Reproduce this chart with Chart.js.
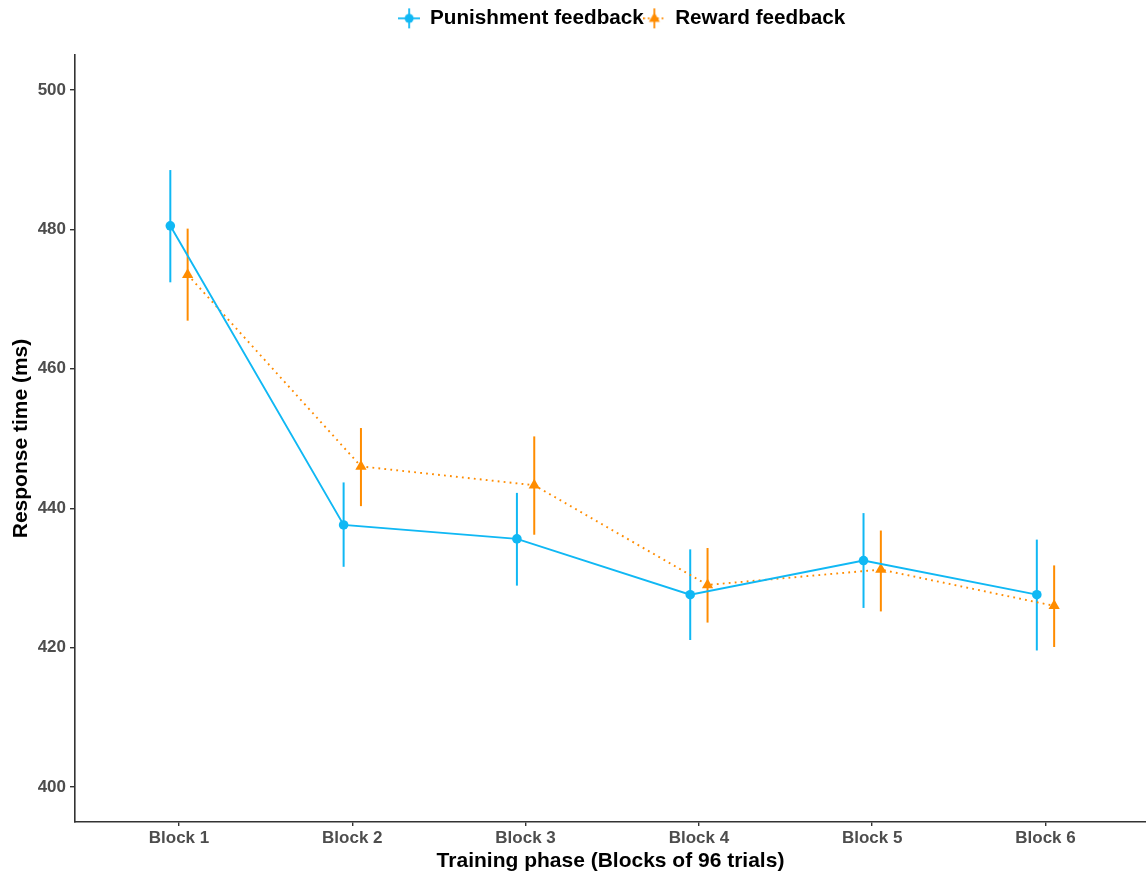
<!DOCTYPE html>
<html>
<head>
<meta charset="utf-8">
<script src="https://cdn.jsdelivr.net/npm/chart.js@4.4.1/dist/chart.umd.min.js"></script>
<style>
  html, body { margin: 0; padding: 0; background: #fff; overflow: hidden; }
  #wrap { width: 1146px; height: 874px; position: relative; }
  #rtChart { display: block; }
</style>
</head>
<body>
<div id="wrap"><canvas id="rtChart"></canvas></div>
<script>
const blockLabels = ["Block 1", "Block 2", "Block 3", "Block 4", "Block 5", "Block 6"];
const yTicks = [400, 420, 440, 460, 480, 500];

const punishMean = [480.5, 437.6, 435.6, 427.6, 432.5, 427.6];
const punishLow = [472.4, 431.6, 428.9, 421.1, 425.7, 419.6];
const punishHigh = [488.5, 443.7, 442.2, 434.1, 439.3, 435.5];

const rewardMean = [473.5, 446.0, 443.3, 429.0, 431.2, 426.0];
const rewardLow = [466.9, 440.3, 436.2, 423.6, 425.2, 420.1];
const rewardHigh = [480.1, 451.5, 450.3, 434.3, 436.8, 431.8];

const BLUE = "#10b8f4";
const ORANGE = "#ff8c00";
const FONT = "'Liberation Sans', Arial, Helvetica, sans-serif";
const DODGE = 0.05;

// points sit left/right of the category centre, like position_dodge
const toPoints = (means, shift) => means.map((v, i) => ({ x: i + 1 + shift, y: v }));

function legendIcon(color, dashed, triangle) {
  const c = document.createElement("canvas");
  c.width = 22;
  c.height = 22;
  const g = c.getContext("2d");
  g.strokeStyle = color;
  g.fillStyle = color;
  g.lineWidth = 1.8;
  g.setLineDash(dashed ? [1.6, 3] : []);
  g.beginPath();
  g.moveTo(0, 11);
  g.lineTo(22, 11);
  g.stroke();
  g.setLineDash([]);
  g.beginPath();
  g.moveTo(11, 1);
  g.lineTo(11, 21);
  g.stroke();
  g.beginPath();
  if (triangle) {
    g.moveTo(11, 5);
    g.lineTo(16.5, 14.5);
    g.lineTo(5.5, 14.5);
    g.closePath();
  } else {
    g.arc(11, 11, 4.5, 0, Math.PI * 2);
  }
  g.fill();
  return c;
}

const errorBars = {
  id: "errorBars",
  beforeDatasetsDraw(chart) {
    const { ctx, scales } = chart;
    chart.data.datasets.forEach((ds) => {
      ctx.save();
      ctx.strokeStyle = ds.borderColor;
      ctx.lineWidth = 2;
      ds.data.forEach((p, i) => {
        const x = scales.x.getPixelForValue(p.x);
        ctx.beginPath();
        ctx.moveTo(x, scales.y.getPixelForValue(ds.low[i]));
        ctx.lineTo(x, scales.y.getPixelForValue(ds.high[i]));
        ctx.stroke();
      });
      ctx.restore();
    });
  },
};

// legend: fixed height, and centred a bit right like the ggplot original
const legendBox = {
  id: "legendBox",
  beforeInit(chart) {
    const fit = chart.legend.fit;
    chart.legend.fit = function () {
      fit.bind(chart.legend)();
      this.height = 47;
    };
  },
  afterLayout(chart) {
    chart.legend.left += 49;
    chart.legend.right += 49;
  },
};

new Chart(document.getElementById("rtChart"), {
  type: "line",
  data: {
    datasets: [
      {
        label: "Punishment feedback",
        data: toPoints(punishMean, -DODGE),
        low: punishLow,
        high: punishHigh,
        borderColor: BLUE,
        backgroundColor: BLUE,
        borderWidth: 1.9,
        pointStyle: "circle",
        pointRadius: 4.8,
        pointBorderWidth: 0,
        legendIcon: legendIcon(BLUE, false, false),
      },
      {
        label: "Reward feedback",
        data: toPoints(rewardMean, DODGE),
        low: rewardLow,
        high: rewardHigh,
        borderColor: ORANGE,
        backgroundColor: ORANGE,
        borderWidth: 1.9,
        borderDash: [1.8, 4.2],
        pointStyle: "triangle",
        pointRadius: 6.5,
        pointBorderWidth: 0,
        legendIcon: legendIcon(ORANGE, true, true),
      },
    ],
  },
  options: {
    responsive: true,
    maintainAspectRatio: false,
    animation: false,
    layout: { autoPadding: false, padding: { top: 8, right: 0, left: 0, bottom: 0 } },
    plugins: {
      tooltip: { enabled: false },
      legend: {
        position: "top",
        align: "center",
        labels: {
          color: "#000",
          font: { family: FONT, size: 20.7, weight: "bold" },
          usePointStyle: true,
          pointStyleWidth: 21,
          padding: 0,
          generateLabels(chart) {
            return chart.data.datasets.map((ds, i) => ({
              text: ds.label,
              pointStyle: ds.legendIcon,
              fillStyle: ds.borderColor,
              strokeStyle: ds.borderColor,
              fontColor: "#000",
              lineWidth: 0,
              datasetIndex: i,
              hidden: false,
            }));
          },
        },
      },
    },
    scales: {
      x: {
        type: "linear",
        min: 0.4,
        max: 6.58,
        afterBuildTicks(scale) {
          scale.ticks = blockLabels.map((_, i) => ({ value: i + 1 }));
        },
        afterFit(scale) {
          scale.height = 52;
        },
        ticks: {
          color: "#4d4d4d",
          font: { family: FONT, size: 17, weight: "bold" },
          padding: 2,
          maxRotation: 0,
          callback: (v) => blockLabels[Math.round(v) - 1],
        },
        grid: {
          drawOnChartArea: false,
          drawTicks: true,
          tickLength: 4,
          color: "#333",
          lineWidth: 1.4,
        },
        border: { display: true, color: "#333", width: 1.6 },
        title: {
          display: true,
          text: "Training phase (Blocks of 96 trials)",
          color: "#000",
          font: { family: FONT, size: 21, weight: "bold" },
          padding: { top: 0, bottom: 0 },
        },
      },
      y: {
        min: 395,
        max: 505,
        afterBuildTicks(scale) {
          scale.ticks = yTicks.map((v) => ({ value: v }));
        },
        afterFit(scale) {
          scale.width = 75;
        },
        ticks: {
          color: "#4d4d4d",
          font: { family: FONT, size: 17, weight: "bold" },
          padding: 4,
        },
        grid: {
          drawOnChartArea: false,
          drawTicks: true,
          tickLength: 5,
          color: "#333",
          lineWidth: 1.4,
        },
        border: { display: true, color: "#333", width: 1.6 },
        title: {
          display: true,
          text: "Response time (ms)",
          color: "#000",
          font: { family: FONT, size: 21, weight: "bold" },
          padding: { top: 9, bottom: 0 },
        },
      },
    },
  },
  plugins: [errorBars, legendBox],
});
</script>
</body>
</html>
